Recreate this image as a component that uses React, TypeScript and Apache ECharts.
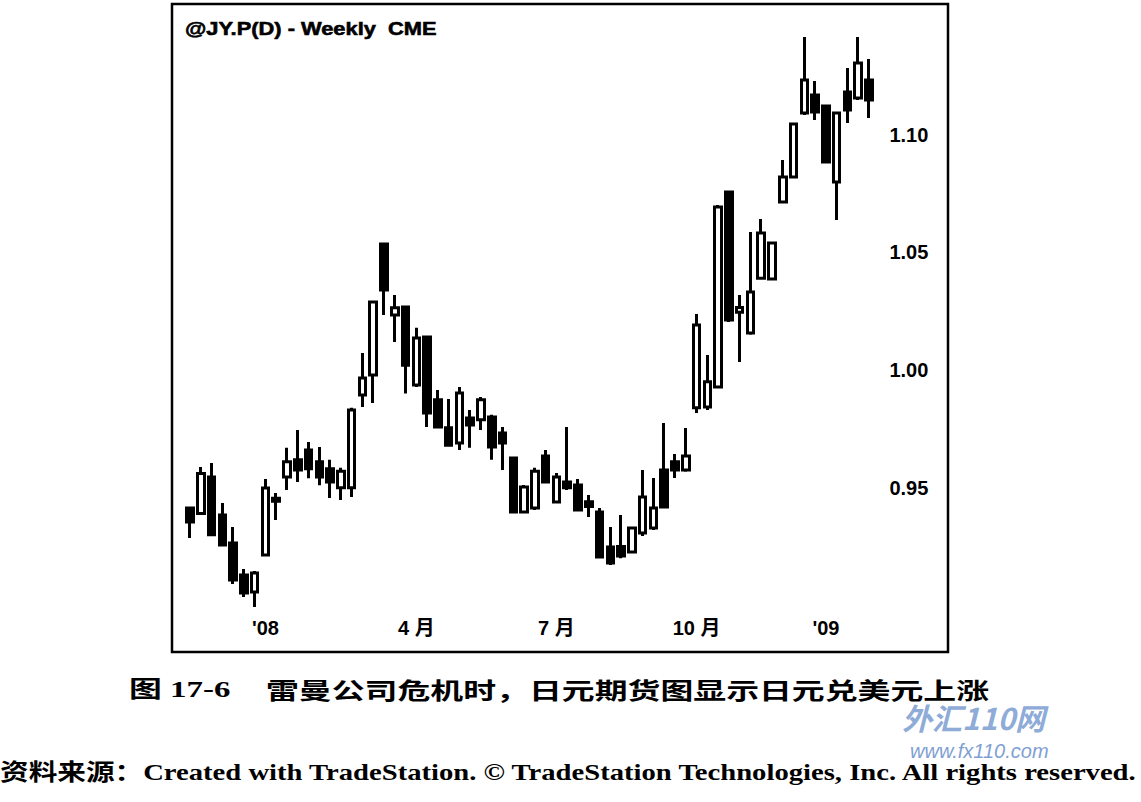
import React, { useEffect, useRef } from "react";
import * as echarts from "echarts";

// Weekly JY futures (Nov 2007 - Jan 2009)
const categories: string[] = [
  "2007-11-16", "2007-11-23", "2007-11-30", "2007-12-07", "2007-12-14", "2007-12-21", "2007-12-28",
  "2008-01-04", "2008-01-11", "2008-01-18", "2008-01-25", "2008-02-01", "2008-02-08", "2008-02-15",
  "2008-02-22", "2008-02-29", "2008-03-07", "2008-03-14", "2008-03-21", "2008-03-28", "2008-04-04",
  "2008-04-11", "2008-04-18", "2008-04-25", "2008-05-02", "2008-05-09", "2008-05-16", "2008-05-23",
  "2008-05-30", "2008-06-06", "2008-06-13", "2008-06-20", "2008-06-27", "2008-07-04", "2008-07-11",
  "2008-07-18", "2008-07-25", "2008-08-01", "2008-08-08", "2008-08-15", "2008-08-22", "2008-08-29",
  "2008-09-05", "2008-09-12", "2008-09-19", "2008-09-26", "2008-10-03", "2008-10-10", "2008-10-17",
  "2008-10-24", "2008-10-31", "2008-11-07", "2008-11-14", "2008-11-21", "2008-11-28", "2008-12-05",
  "2008-12-12", "2008-12-19", "2008-12-26", "2009-01-02", "2009-01-09", "2009-01-16", "2009-01-23",
  "2009-01-30",
];

const opens: number[] = [
  0.9414, 0.939, 0.9545, 0.9384, 0.9265, 0.9129, 0.9057, 0.9214, 0.9455, 0.9545,
  0.9618, 0.966, 0.961, 0.958, 0.95, 0.95, 0.9894, 0.9979, 1.0535, 1.0234,
  1.0268, 0.9936, 1.014, 0.9873, 0.9754, 0.969, 0.9796, 0.9788, 0.98, 0.9732,
  0.9626, 0.9397, 0.9414, 0.9634, 0.9439, 0.9524, 0.9511, 0.944, 0.9397, 0.9248,
  0.925, 0.9227, 0.9307, 0.9329, 0.9575, 0.961, 0.9575, 0.9839, 0.9843, 0.9928,
  1.0756, 1.0245, 1.0157, 1.039, 1.0387, 1.0714, 1.082, 1.1092, 1.1169, 1.1122,
  1.0799, 1.1181, 1.1156, 1.1232,
];
const closes: number[] = [
  0.9354, 0.956, 0.93, 0.9256, 0.9108, 0.9052, 0.9137, 0.9499, 0.9442, 0.961,
  0.9575, 0.958, 0.9545, 0.9524, 0.957, 0.983, 0.9966, 1.0289, 1.034, 1.0264,
  1.002, 1.0136, 0.9817, 0.9758, 0.968, 0.9902, 0.9766, 0.9873, 0.9673, 0.969,
  0.9397, 0.9503, 0.957, 0.9524, 0.9545, 0.95, 0.9405, 0.942, 0.9205, 0.918,
  0.921, 0.9329, 0.946, 0.9414, 0.9418, 0.9575, 0.9634, 1.0191, 0.995, 1.0693,
  1.0212, 1.0265, 1.0331, 1.0582, 1.054, 1.082, 1.1045, 1.1232, 1.1096, 1.0884,
  1.1092, 1.1105, 1.1305, 1.1147,
];
const lows: number[] = [
  0.9286, 0.9384, 0.9299, 0.925, 0.909, 0.9035, 0.8993, 0.921, 0.9363, 0.949,
  0.9524, 0.954, 0.951, 0.9456, 0.9448, 0.946, 0.9843, 0.986, 1.0234, 1.0119,
  0.99, 0.9928, 0.9758, 0.9752, 0.9677, 0.966, 0.9669, 0.9745, 0.9618, 0.9575,
  0.9392, 0.9392, 0.9405, 0.952, 0.9435, 0.949, 0.94, 0.9375, 0.92, 0.9171,
  0.92, 0.9223, 0.9295, 0.932, 0.9414, 0.9541, 0.9567, 0.9817, 0.983, 0.9923,
  1.0204, 1.0034, 1.015, 1.0387, 1.038, 1.071, 1.0815, 1.1084, 1.1062, 1.088,
  1.0637, 1.105, 1.1147, 1.1071,
];
const highs: number[] = [
  0.942, 0.9588, 0.9605, 0.9435, 0.9333, 0.9154, 0.9146, 0.9537, 0.9477, 0.9669,
  0.9745, 0.9694, 0.9673, 0.9618, 0.9584, 0.9839, 1.0072, 1.0293, 1.054, 1.0319,
  1.0272, 1.0179, 1.0145, 0.9915, 0.9877, 0.9928, 0.983, 0.9885, 0.981, 0.9758,
  0.963, 0.9511, 0.9584, 0.966, 0.9562, 0.9758, 0.9537, 0.9469, 0.9414, 0.9333,
  0.9384, 0.9333, 0.9575, 0.9541, 0.9775, 0.9643, 0.9753, 1.0238, 1.0064, 1.0701,
  1.0761, 1.0319, 1.0586, 1.0642, 1.0544, 1.0892, 1.105, 1.1415, 1.1228, 1.1126,
  1.1096, 1.1283, 1.1415, 1.1322,
];

// x-axis tick labels (week -> text)
const tickDates: string[] = ["2008-01-04", "2008-04-11", "2008-07-11", "2008-10-10", "2009-01-02"];
const tickTexts: string[] = ["'08", "4 月", "7 月", "10 月", "'09"];

// y-axis labels shown
const yTicks: number[] = [0.95, 1.0, 1.05, 1.1];

const titleText = "@JY.P(D) - Weekly  CME";
const captionNum = "图 17-6";
const captionText = "雷曼公司危机时，日元期货图显示日元兑美元上涨";
const sourceText = "资料来源：Created with TradeStation. © TradeStation Technologies, Inc. All rights reserved.";

export default function App() {
  const ref = useRef<HTMLDivElement>(null);
  useEffect(() => {
    document.body.style.margin = "0";
    if (!ref.current) return;
    const chart = echarts.init(ref.current, undefined, { renderer: "svg" });
    const ohlc = categories.map((_, i) => [opens[i], closes[i], lows[i], highs[i]]);
    const tickIdx = tickDates.map((d) => categories.indexOf(d));
    chart.setOption({
      animation: false,
      backgroundColor: "#ffffff",
      grid: { left: 184.6, right: 266.6, top: 17, bottom: 196.7, containLabel: false },
      xAxis: {
        type: "category",
        data: categories,
        boundaryGap: true,
        axisLine: { show: false },
        axisTick: { show: false },
        splitLine: { show: false },
        axisLabel: {
          interval: (index: number) => tickIdx.includes(index),
          formatter: (v: string) => {
            const k = tickDates.indexOf(v);
            return k >= 0 ? tickTexts[k] : "";
          },
          margin: 13,
          color: "#000",
          fontSize: 20,
          fontWeight: "bold",
          fontFamily: "'Liberation Sans', 'Noto Sans CJK SC', sans-serif",
        },
      },
      yAxis: {
        type: "value",
        position: "right",
        min: 0.9,
        max: 1.15,
        interval: 0.05,
        scale: true,
        axisLine: { show: false },
        axisTick: { show: false },
        splitLine: { show: false },
        axisLabel: {
          margin: 15,
          color: "#000",
          fontSize: 20,
          fontWeight: "bold",
          fontFamily: "'Liberation Sans', Arial, sans-serif",
          formatter: (v: number) =>
            yTicks.some((t) => Math.abs(t - v) < 1e-6) ? v.toFixed(2) : "",
        },
      },
      series: [
        {
          type: "candlestick",
          data: ohlc,
          barWidth: 7,
          itemStyle: {
            color: "#ffffff",
            color0: "#000000",
            borderColor: "#000000",
            borderColor0: "#000000",
            borderWidth: 3,
          },
        },
      ],
      graphic: [
        {
          type: "rect",
          shape: { x: 172, y: 4, width: 776, height: 648 },
          style: { fill: "none", stroke: "#000", lineWidth: 2.5 },
          silent: true,
        },
        {
          type: "text",
          x: 185,
          y: 28,
          scaleX: 1.15,
          style: {
            text: titleText,
            font: "bold 19px 'Liberation Sans', Arial, sans-serif",
            fill: "#000",
            stroke: "#000",
            lineWidth: 0.6,
            textAlign: "left",
            textVerticalAlign: "middle",
          },
        },
        {
          type: "text",
          x: 129,
          y: 689,
          scaleX: 1.43,
          style: {
            text: captionNum,
            font: "bold 23px 'Liberation Serif', 'Noto Sans CJK SC', serif",
            fill: "#000",
            textAlign: "left",
            textVerticalAlign: "middle",
          },
        },
        {
          type: "text",
          x: 266,
          y: 689,
          scaleX: 1.43,
          style: {
            text: captionText,
            font: "bold 23px 'Noto Sans CJK SC', serif",
            fill: "#000",
            textAlign: "left",
            textVerticalAlign: "middle",
          },
        },
        {
          type: "text",
          x: 0,
          y: 772,
          scaleX: 1.245,
          style: {
            text: sourceText,
            font: "bold 23px 'Liberation Serif', 'Noto Sans CJK SC', serif",
            fill: "#000",
            textAlign: "left",
            textVerticalAlign: "middle",
          },
        },
        {
          type: "text",
          x: 902,
          y: 717,
          style: {
            text: "外汇110网",
            font: "italic bold 30px 'Noto Sans CJK SC', 'Liberation Sans', sans-serif",
            fill: "#7f9fd3",
            opacity: 0.9,
            textAlign: "left",
            textVerticalAlign: "middle",
          },
        },
        {
          type: "text",
          x: 910,
          y: 751,
          style: {
            text: "www.fx110.com",
            font: "italic 20px 'Liberation Sans', Arial, sans-serif",
            fill: "#7f9fd3",
            textAlign: "left",
            textVerticalAlign: "middle",
          },
        },
      ],
    });
    return () => chart.dispose();
  }, []);
  return <div ref={ref} style={{ width: 1141, height: 802 }} />;
}
